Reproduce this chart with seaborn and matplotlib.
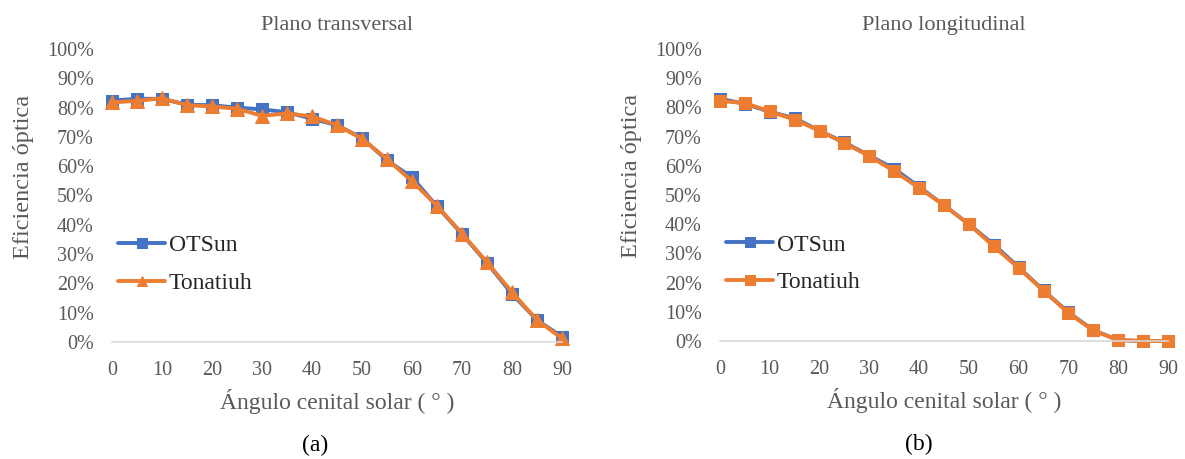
import numpy as np
import pandas as pd
import matplotlib
matplotlib.use("Agg")
import matplotlib.pyplot as plt
import seaborn as sns
from matplotlib.ticker import PercentFormatter

# data
angulos = [0, 5, 10, 15, 20, 25, 30, 35, 40, 45, 50, 55, 60, 65, 70, 75, 80, 85, 90]
trans_otsun = [82.4, 83.0, 83.0, 81.0, 80.8, 80.0, 79.4, 78.4, 76.2, 74.0, 69.6, 62.0, 56.2, 46.3, 36.8, 27.0, 16.4, 7.5, 1.8]
trans_tonatiuh = [81.8, 82.3, 83.2, 80.8, 80.4, 79.6, 77.2, 78.0, 77.0, 74.0, 69.4, 62.4, 54.9, 46.5, 37.0, 27.2, 17.0, 7.5, 1.2]
long_otsun = [83.0, 81.2, 78.5, 76.3, 72.0, 68.0, 63.5, 59.0, 52.8, 46.5, 40.0, 33.0, 25.3, 17.3, 9.8, 3.7, 0.3, 0.0, 0.0]
long_tonatiuh = [82.2, 81.5, 78.6, 75.8, 72.0, 67.8, 63.3, 58.2, 52.4, 46.5, 40.0, 32.4, 25.0, 17.2, 9.6, 3.6, 0.3, 0.0, 0.0]
titulos = ["Plano transversal", "Plano longitudinal"]
etiquetas = ["(a)", "(b)"]

azul = "#4472C4"
naranja = "#ED7D31"
gris = "#595959"

sns.set_style("white")
plt.rcParams["font.family"] = ["Liberation Serif", "DejaVu Serif"]

fig = plt.figure(figsize=(11.85, 4.59), dpi=100)
ax1 = fig.add_axes([112/1185, 1-342/459, 450/1185, 293/459])
ax2 = fig.add_axes([720/1185, 1-341/459, 448/1185, 292/459])

paneles = [
    (ax1, trans_otsun, trans_tonatiuh, "^"),
    (ax2, long_otsun, long_tonatiuh, "s"),
]

for i, (ax, otsun, tonatiuh, mk2) in enumerate(paneles):
    df = pd.DataFrame({"ang": angulos, "OTSun": otsun, "Tonatiuh": tonatiuh})
    sns.lineplot(data=df, x="ang", y="OTSun", ax=ax, color=azul, lw=2.8,
                 marker="s", markersize=8, markeredgecolor=azul, label="OTSun", clip_on=False)
    sns.lineplot(data=df, x="ang", y="Tonatiuh", ax=ax, color=naranja, lw=2.8,
                 marker=mk2, markersize=10 if mk2 == "^" else 8.5, markeredgecolor=naranja,
                 label="Tonatiuh", clip_on=False)
    ax.set_xlim(0, 90)
    ax.set_ylim(0, 100)
    ax.set_xticks(range(0, 91, 10))
    ax.set_yticks(range(0, 101, 10))
    ax.yaxis.set_major_formatter(PercentFormatter(decimals=0))
    ax.tick_params(axis="y", length=0, labelsize=14.5, colors=gris, pad=13)
    ax.tick_params(axis="x", length=0, labelsize=14.5, colors=gris, pad=14)
    for s in ["left", "right", "top"]:
        ax.spines[s].set_visible(False)
    ax.spines["bottom"].set_color("#d9d9d9")
    ax.spines["bottom"].set_linewidth(1.2)
    ax.set_title(titulos[i], fontsize=16, color=gris, pad=14)
    ax.set_xlabel("Ángulo cenital solar ( ° )", fontsize=17, color=gris, labelpad=6)
    ax.set_ylabel("Eficiencia óptica", fontsize=17.5, color=gris)
    ax.yaxis.set_label_coords(-78/450, 0.565)
    ax.text(0.452 if i == 0 else 0.443, -0.318, etiquetas[i], transform=ax.transAxes,
            fontsize=17, color="black", ha="center", va="top")
    leg = ax.legend(loc="center left", bbox_to_anchor=(-0.034, 0.265), frameon=False,
                    fontsize=17, handlelength=2.0, labelspacing=0.68, handletextpad=0.15)
    for t in leg.get_texts():
        t.set_color("#262626")
    for h in leg.legend_handles:
        h.set_markersize(7)

fig.savefig("out.png", dpi=100)
